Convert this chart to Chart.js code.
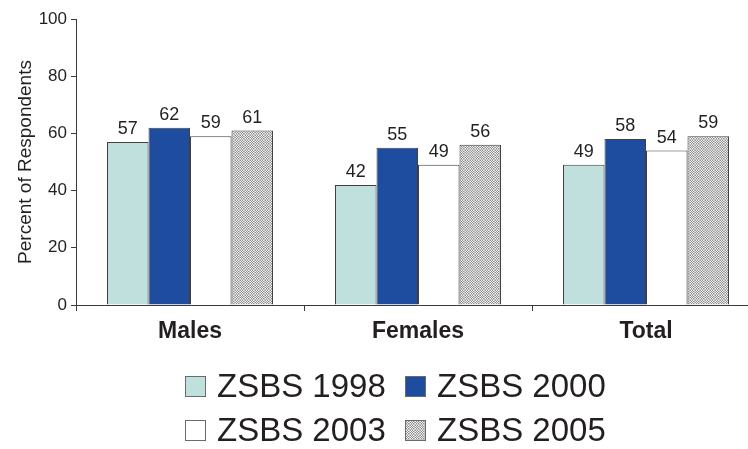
<!DOCTYPE html>
<html>
<head>
<meta charset="utf-8">
<script src="https://cdn.jsdelivr.net/npm/chart.js@4"></script>
<style>
  html, body { margin: 0; padding: 0; background: #fff; overflow: hidden; }
  #wrap { width: 748px; height: 449px; overflow: hidden; }
  canvas { display: block; }
</style>
</head>
<body>
<div id="wrap"><canvas id="c" width="762" height="449"></canvas></div>
<script>
const categories = ['Males', 'Females', 'Total'];
const seriesLabels = ['ZSBS 1998', 'ZSBS 2000', 'ZSBS 2003', 'ZSBS 2005'];
const zsbs1998 = [57, 42, 49];
const zsbs2000 = [62, 55, 58];
const zsbs2003 = [59, 49, 54];
const zsbs2005 = [61, 56, 59];
const yTickMin = 0, yTickMax = 100, yTickStep = 20;

const FONT = "'Liberation Sans', Arial, Helvetica, sans-serif";
const TEXT = '#231f20';
const LINE = '#3a3a3a';

function makePattern() {
  const p = document.createElement('canvas');
  const n = 5;
  p.width = n; p.height = n;
  const g = p.getContext('2d');
  g.fillStyle = '#f2f2f2'; g.fillRect(0, 0, n, n);
  g.fillStyle = '#8e8e8e';
  for (let y = 0; y < n - 1; y++) {
    for (let x = 0; x < n - 1; x++) {
      if ((x + y) % 2 === 0) g.fillRect(x, y, 1, 1);
    }
  }
  g.fillStyle = '#c4c4c4';
  g.fillRect(n - 1, 0, 1, n);
  g.fillRect(0, n - 1, n, 1);
  return document.getElementById('c').getContext('2d').createPattern(p, 'repeat');
}
const pattern = makePattern();

const fills = ['#c0e0de', '#1e4c9e', '#ffffff', pattern];
const seriesData = [zsbs1998, zsbs2000, zsbs2003, zsbs2005];

const valueLabels = {
  id: 'valueLabels',
  afterDatasetsDraw(chart) {
    const ctx = chart.ctx;
    ctx.save();
    ctx.font = '18px ' + FONT;
    ctx.fillStyle = TEXT;
    ctx.textAlign = 'center';
    ctx.textBaseline = 'alphabetic';
    chart.data.datasets.forEach((ds, i) => {
      chart.getDatasetMeta(i).data.forEach((bar, j) => {
        ctx.fillText(String(ds.data[j]), bar.x, bar.y - 8);
      });
    });
    ctx.restore();
  }
};

const customLegend = {
  id: 'customLegend',
  afterDraw(chart) {
    const ctx = chart.ctx;
    ctx.save();
    ctx.font = '33px ' + FONT;
    ctx.textBaseline = 'alphabetic';
    ctx.textAlign = 'left';
    const ds = chart.data.datasets;
    const colX = [185, 405];
    const rowBase = [397, 441];
    const box = 21;
    ds.forEach((d, i) => {
      const col = i % 2, row = Math.floor(i / 2);
      const bx = colX[col], by = rowBase[row] - box;
      ctx.fillStyle = d.backgroundColor;
      ctx.fillRect(bx, by, box, box);
      ctx.strokeStyle = '#6a6a6a';
      ctx.lineWidth = 1;
      ctx.strokeRect(bx + 0.5, by + 0.5, box - 1, box - 1);
      ctx.fillStyle = TEXT;
      ctx.fillText(d.label, bx + 32, rowBase[row]);
    });
    ctx.restore();
  }
};

new Chart(document.getElementById('c'), {
  type: 'bar',
  data: {
    labels: categories,
    datasets: seriesLabels.map((lab, i) => ({
      label: lab,
      data: seriesData[i],
      backgroundColor: fills[i],
      borderColor: '#404040',
      borderWidth: 1,
      barPercentage: 1,
      categoryPercentage: 0.728
    }))
  },
  options: {
    responsive: false,
    animation: false,
    devicePixelRatio: 1,
    layout: { padding: { top: 19, right: 2, bottom: 0, left: 0 } },
    plugins: { legend: { display: false }, tooltip: { enabled: false } },
    scales: {
      x: {
        offset: true,
        grid: { offset: true, drawOnChartArea: false, drawTicks: true, tickLength: 6, color: LINE },
        border: { color: LINE, width: 1 },
        ticks: { color: TEXT, padding: 7, font: { family: FONT, size: 23, weight: 'bold' } },
        afterFit(s) { s.height = 144; }
      },
      y: {
        min: yTickMin, max: yTickMax,
        grid: { drawOnChartArea: false, drawTicks: true, tickLength: 5, color: LINE },
        border: { color: LINE, width: 1 },
        ticks: { stepSize: yTickStep, color: TEXT, padding: 4, font: { family: FONT, size: 17 } },
        title: { display: true, text: 'Percent of Respondents', color: TEXT,
                 font: { family: FONT, size: 19 }, padding: { top: 14, bottom: 0 } },
        afterFit(s) { s.width = 76; }
      }
    }
  },
  plugins: [valueLabels, customLegend]
});
</script>
</body>
</html>
